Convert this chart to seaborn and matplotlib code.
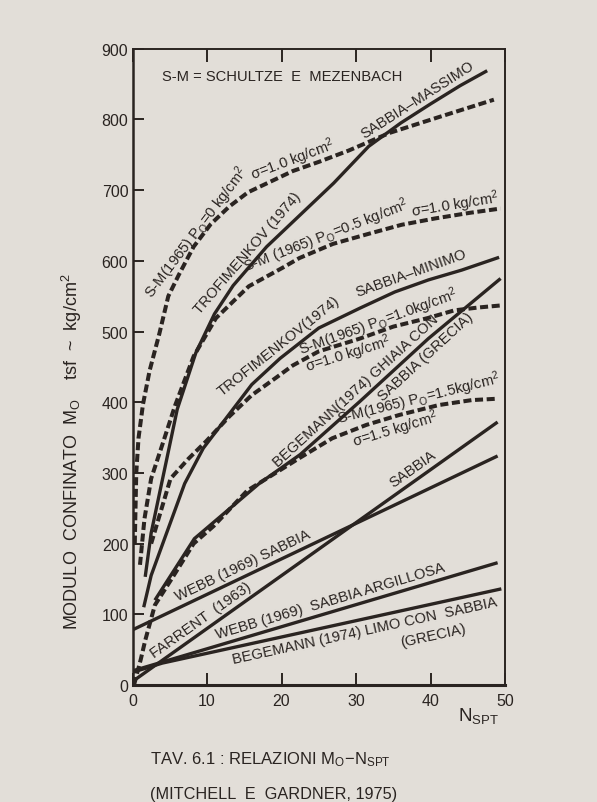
import numpy as np
import pandas as pd
import matplotlib
matplotlib.use("Agg")
import matplotlib.pyplot as plt
import seaborn as sns

# ---- curves: N_SPT values and confined modulus Mo (tsf ~ kg/cm2) ----
po0_n = [0.3, 0.5, 0.8, 1.4, 2.3, 3.6, 4.8, 6.2, 8.2, 10.5, 13, 15.5, 18.5, 21.5, 25, 29, 34.5, 41, 48.5]
po0_m = [200, 300, 349, 397, 445, 497, 550, 580, 620, 652, 677, 697, 712, 727, 740, 756, 781, 803, 828]

po05_n = [1.0, 1.6, 2.5, 4.0, 5.7, 8.2, 11.2, 15.6, 20.1, 22.4, 26.9, 31.6, 36.1, 40.6, 45.3, 49.4]
po05_m = [170, 235, 292, 340, 395, 465, 519, 564, 590, 604, 624, 638, 651, 660, 668, 674]

po1_n = [2.5, 5.1, 7.5, 9.9, 13, 16, 19.3, 21.5, 25, 30.5, 35, 39.6, 43.2, 46.4, 49.5]
po1_m = [200, 292, 320, 345, 380, 410, 435, 452, 472, 490, 507, 519, 530, 534, 537]

po15_n = [0.2, 1.1, 1.7, 2.4, 3, 5.3, 8.2, 10.9, 15.4, 22.4, 26.8, 31.4, 35.8, 41.1, 45.5, 49]
po15_m = [0, 36, 63, 90, 113, 151, 200, 225, 275, 321, 349, 368, 382, 396, 403, 405]

trof_max_n = [1.7, 2.5, 4.2, 6, 8.5, 11, 13.5, 18, 22.5, 27, 31.7, 36, 40, 44, 47.6]
trof_max_m = [153, 215, 300, 390, 470, 525, 565, 620, 665, 710, 762, 795, 822, 848, 869]

trof_min_n = [1.5, 2.5, 4.4, 7, 9.5, 12.1, 16, 19.8, 25, 30.5, 35.2, 39.7, 44.2, 49.2]
trof_min_m = [110, 155, 210, 285, 335, 371, 425, 462, 505, 533, 556, 573, 587, 605]

beg_gh_n = [3, 8.3, 17, 22.5, 30.5, 39.7, 49.4]
beg_gh_m = [120, 207, 285, 326, 401, 490, 575]

farrent_n = [0, 49]
farrent_m = [5, 372]

webb_n = [0, 49]
webb_m = [78, 324]

webb_arg_n = [0, 49]
webb_arg_m = [20, 173]

beg_limo_n = [0, 4, 49.5]
beg_limo_m = [18, 31, 136]

x_ticks = [0, 10, 20, 30, 40, 50]
y_ticks = [0, 100, 200, 300, 400, 500, 600, 700, 800, 900]

PAPER = "#e2ded8"
INK = "#2a2421"

sns.set_theme(style="ticks")
plt.rcParams["font.family"] = ["Liberation Sans", "DejaVu Sans"]
plt.rcParams["mathtext.fontset"] = "custom"
plt.rcParams["mathtext.rm"] = "Liberation Sans"
plt.rcParams["mathtext.it"] = "Liberation Sans:italic"
plt.rcParams["mathtext.bf"] = "Liberation Sans:bold"

fig = plt.figure(figsize=(5.97, 8.03), dpi=100, facecolor=PAPER)
ax = fig.add_axes([0.222, 0.1457, 0.624, 0.7923])
ax.set_facecolor(PAPER)
ax.set_xlim(0, 50)
ax.set_ylim(0, 900)

DASH = (0, (2.0, 0.9))


def draw(n, m, dashed=False):
    df = pd.DataFrame({"N": n, "M": m})
    if dashed:
        sns.lineplot(data=df, x="N", y="M", ax=ax, color=INK, lw=2.9,
                     linestyle=DASH, estimator=None, sort=False,
                     dash_capstyle="butt")
    else:
        sns.lineplot(data=df, x="N", y="M", ax=ax, color=INK, lw=2.4,
                     estimator=None, sort=False, solid_capstyle="butt")


draw(po0_n, po0_m, True)
draw(po05_n, po05_m, True)
draw(po1_n, po1_m, True)
draw(po15_n, po15_m, True)
draw(trof_max_n, trof_max_m)
draw(trof_min_n, trof_min_m)
draw(beg_gh_n, beg_gh_m)
draw(farrent_n, farrent_m)
draw(webb_n, webb_m)
draw(webb_arg_n, webb_arg_m)
draw(beg_limo_n, beg_limo_m)

FS = 10.6


def curve_label(n, m, at, text, off, fs=FS):
    """Write text along a curve, centred at N=at, shifted `off` points sideways."""
    y = np.interp(at, n, m)
    p0 = ax.transData.transform((at - 0.8, np.interp(at - 0.8, n, m)))
    p1 = ax.transData.transform((at + 0.8, np.interp(at + 0.8, n, m)))
    ang = np.degrees(np.arctan2(p1[1] - p0[1], p1[0] - p0[0]))
    th = np.radians(ang)
    ax.annotate(text, (at, y), xytext=(-off * np.sin(th), off * np.cos(th)),
                textcoords="offset points", rotation=ang, rotation_mode="anchor",
                ha="center", va="center", fontsize=fs, color=INK)


KG = r"kg/cm$^2$"
P = r"$\mathregular{P_O}$"
curve_label(po0_n, po0_m, 9.3, f"S-M(1965) {P}=0 {KG}", 5)
curve_label(po0_n, po0_m, 22, f"σ=1.0 {KG}", 8)
curve_label(trof_max_n, trof_max_m, 16.5, "TROFIMENKOV (1974)", 8)
curve_label(trof_max_n, trof_max_m, 39, "SABBIA–MASSIMO", 8)
curve_label(po05_n, po05_m, 26.5, f"S-M (1965) {P}=0.5 {KG}", 8)
curve_label(po05_n, po05_m, 43.5, f"σ=1.0 {KG}", 8)
curve_label(trof_min_n, trof_min_m, 20.5, "TROFIMENKOV(1974)", 8)
curve_label(trof_min_n, trof_min_m, 38, "SABBIA–MINIMO", 9)
curve_label(po1_n, po1_m, 33.5, f"S-M(1965) {P}=1.0{KG}", 7)
curve_label(po1_n, po1_m, 28.5, f"σ=1.0 {KG}", -8)
curve_label(beg_gh_n, beg_gh_m, 31, "BEGEMANN(1974) GHIAIA CON", 8)
curve_label(beg_gh_n, beg_gh_m, 38.3, "SABBIA (GRECIA)", -8)
curve_label(po15_n, po15_m, 38.8, f"S-M(1965) {P}=1.5{KG}", 8)
curve_label(po15_n, po15_m, 34.8, f"σ=1.5 {KG}", -9)
curve_label(farrent_n, farrent_m, 38.5, "SABBIA", 8)
curve_label(webb_n, webb_m, 15.5, "WEBB (1969) SABBIA", 8)
curve_label(farrent_n, farrent_m, 10, "FARRENT  (1963)", 8)
curve_label(webb_arg_n, webb_arg_m, 27, "WEBB (1969)  SABBIA ARGILLOSA", 8)
curve_label(beg_limo_n, beg_limo_m, 30.8, "BEGEMANN (1974) LIMO CON  SABBIA", -8)
curve_label(beg_limo_n, beg_limo_m, 39.5, "(GRECIA)", -22)

ax.text(3.9, 861, "S-M = SCHULTZE  E  MEZENBACH", fontsize=FS, color=INK,
        ha="left", va="center")

# frame and ticks
for side, w in [("left", 1.8), ("bottom", 2.2), ("top", 1.4), ("right", 1.4)]:
    ax.spines[side].set_visible(True)
    ax.spines[side].set_linewidth(w)
    ax.spines[side].set_color(INK)
ax.set_xticks(x_ticks)
ax.set_yticks(y_ticks)
ax.tick_params(axis="x", direction="in", length=9, width=1.4, top=True,
               labeltop=False, labelsize=11.5, colors=INK, pad=6)
ax.tick_params(axis="y", direction="in", length=8, width=1.4, right=False,
               labelsize=11.5, colors=INK, pad=3)
ax.set_xlabel("")
ax.set_ylabel("")

fig.text(72 / 597, 1 - 452 / 803,
         r"MODULO  CONFINATO  $\mathregular{M_O}$    tsf  ~  kg/cm$^2$",
         rotation=90, ha="center", va="center", fontsize=13, color=INK)
fig.text(478 / 597, 1 - 716 / 803, r"$\mathregular{N_{SPT}}$",
         ha="center", va="center", fontsize=13.5, color=INK)
fig.text(150 / 597, 1 - 760 / 803,
         r"TAV. 6.1 : RELAZIONI $\mathregular{M_O}$$\mathregular{-}$$\mathregular{N_{SPT}}$",
         ha="left", va="center", fontsize=12, color=INK)
fig.text(150 / 597, 1 - 795 / 803, "(MITCHELL  E  GARDNER, 1975)",
         ha="left", va="center", fontsize=11.7, color=INK)

fig.savefig("out.png", dpi=100, facecolor=PAPER)
